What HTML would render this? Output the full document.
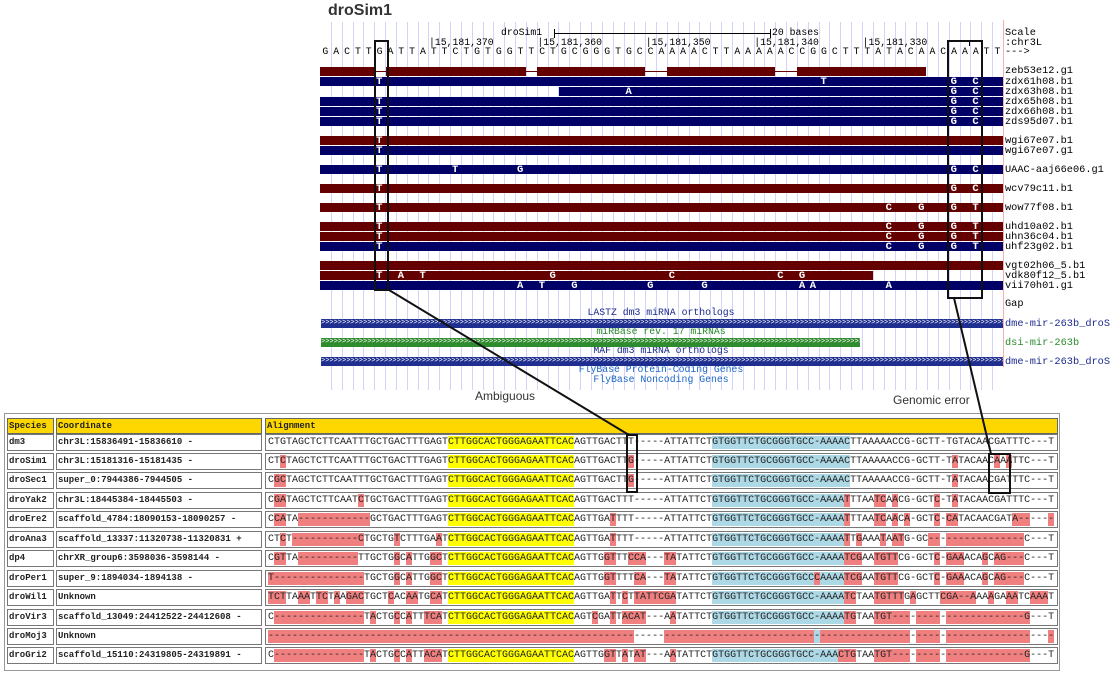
<!DOCTYPE html>
<html><head><meta charset="utf-8">
<style>
html,body{margin:0;padding:0;background:#fff;}
#c{position:relative;width:1120px;height:674px;overflow:hidden;background:#fff;}
.a{position:absolute;white-space:pre;}
.m{font-family:"Liberation Mono",monospace;font-size:9.8px;}
.tb{font-family:"Liberation Mono",monospace;font-size:9px;font-weight:bold;color:#222;}
.al{font-family:"Liberation Mono",monospace;font-size:10px;color:#222;}
.sn{font-family:"Liberation Sans",sans-serif;}
</style></head><body><div id="c"></div>
<script>
var h=[];
function d(x,y,w,ht,st){h.push('<div class="a" style="left:'+x+'px;top:'+y+'px;width:'+w+'px;height:'+ht+'px;'+(st||'')+'"></div>');}
function t(x,y,s,cls,st){h.push('<div class="a '+cls+'" style="left:'+x+'px;top:'+y+'px;'+(st||'')+'">'+s+'</div>');}
function tc(cx,cy,s,cls,st){h.push('<div class="a '+cls+'" style="left:'+(cx-300)+'px;width:600px;text-align:center;top:'+(cy-6)+'px;line-height:12px;'+(st||'')+'">'+s+'</div>');}
var P=10.84,X0=320;
function bx(i){return X0+(i+0.5)*P;}
for(var i=1;i<63;i++){d(Math.round(X0+i*P),22,1,368,'background:#d4d4fa;');}
d(1003,20,1,347,'background:#f2b0b0;');
t(328,2,'droSim1','sn','font-weight:bold;font-size:16px;color:#333;');
t(501,27,'droSim1','m');
d(554,33,216,1,'background:#000;');d(554,29,1,9,'background:#000;');d(770,29,1,9,'background:#000;');
t(772,27,'20 bases','m');
var pl=['|15,181,370','|15,181,360','|15,181,350','|15,181,340','|15,181,330'];
for(var i=0;i<5;i++)t(429+i*108.4,37,pl[i],'m');
d(969,40,1,6,'background:#000;');
var B="GACTTGATTATTCTGTGGTTCTGCGGGTGCCAAAACTTAAAAACCGGCTTTATACAACAAATT";
for(var i=0;i<B.length;i++)t(bx(i)-3,46,B[i],'m');
function rl(y,s,col){t(1005,y-6,s,'m','font-size:10.3px;line-height:12px;'+(col?'color:'+col+';':''));}
rl(33,'Scale');rl(43,':chr3L');rl(52,'---&gt;');
var M='#640000',N='#000066';
var segs=[[320,374],[386,526],[537,645],[667,775],[797,926]];
d(320,71,606,1,'background:'+M+';');
segs.forEach(function(s){d(s[0],67,s[1]-s[0],9,'background:'+M+';');});
rl(71,'zeb53e12.g1');
var tr=[
[77,320,1003,N,{5:'T',46:'T',58:'G',60:'C'},'zdx61h08.b1'],
[87,559,1003,N,{28:'A',58:'G',60:'C'},'zdx63h08.b1'],
[97,320,1003,N,{5:'T',58:'G',60:'C'},'zdx65h08.b1'],
[107,320,1003,N,{5:'T',58:'G',60:'C'},'zdx66h08.b1'],
[117,320,1003,N,{5:'T',58:'G',60:'C'},'zds95d07.b1'],
[136,320,1003,M,{5:'T'},'wgi67e07.b1'],
[146,320,1003,N,{5:'T'},'wgi67e07.g1'],
[165,320,1003,N,{5:'T',12:'T',18:'G',58:'G',60:'C'},'UAAC-aaj66e06.g1'],
[184,320,1003,M,{5:'T',58:'G',60:'C'},'wcv79c11.b1'],
[203,320,1003,M,{5:'T',52:'C',55:'G',58:'G',60:'T'},'wow77f08.b1'],
[222,320,1003,M,{5:'T',52:'C',55:'G',58:'G',60:'T'},'uhd10a02.b1'],
[232,320,1003,M,{5:'T',52:'C',55:'G',58:'G',60:'T'},'uhn36c04.b1'],
[242,320,1003,N,{5:'T',52:'C',55:'G',58:'G',60:'T'},'uhf23g02.b1'],
[261,320,1003,M,{},'vgt02h06_5.b1'],
[271,320,873,M,{5:'T',7:'A',9:'T',21:'G',32:'C',42:'C',44:'G'},'vdk80f12_5.b1'],
[281,320,1003,N,{18:'A',20:'T',23:'G',30:'G',35:'G',44:'A',45:'A',52:'A'},'vii70h01.g1']];
tr.forEach(function(r){d(r[1],r[0],r[2]-r[1],9,'background:'+r[3]+';');
 for(var k in r[4])t(bx(+k)-3.5,r[0]-1.5,r[4][k],'m','color:#fff;font-weight:bold;font-size:10.5px;line-height:12px;');
 rl(r[0]+4.5,r[5]);});
var ti=[[61,'droSim1 c1674 Assembly Reads'],[130,'droSim1 md106 Assembly Reads'],[159,'droSim1 md199 Assembly Reads'],[178,'droSim1 nc48 Assembly Reads'],[197,'droSim1 sim4 Assembly Reads'],[216,'droSim1 sim6 Assembly Reads'],[255,'droSim1 w501 Assembly Reads'],[295,'Gap Locations']];
ti.forEach(function(a){tc(661,a[1],a[0],'m');});
rl(304,'Gap');
tc(661,313,'LASTZ dm3 miRNA orthologs','m','color:#1c2a8c;');
tc(661,332,'miRBase rev. 17 miRNAs','m','color:#2a8a2a;');
tc(661,351,'MAF dm3 miRNA orthologs','m','color:#1c2a8c;');
tc(661,370,'FlyBase Protein-Coding Genes','m','color:#1a66c8;');
tc(661,380,'FlyBase Noncoding Genes','m','color:#1a66c8;');
var chev=new Array(200).join('&gt;');
function cb(y,x1,col){h.push('<div class="a" style="left:321px;top:'+y+'px;width:'+(x1-321)+'px;height:9px;background:'+col+';overflow:hidden;color:#fff;font-family:\'Liberation Mono\',monospace;font-size:7px;line-height:9px;letter-spacing:0px;">'+chev+'</div>');}
cb(319,1003,'#1f2f8f');cb(338,860,'#2e8b2e');cb(357,1003,'#1f2f8f');
rl(323.5,'dme-mir-263b_droS','#1c2a8c');rl(342.5,'dsi-mir-263b','#2a8a2a');rl(361.5,'dme-mir-263b_droS','#1c2a8c');
t(475,389,'Ambiguous','sn','font-size:12px;color:#333;');
t(893,393,'Genomic error','sn','font-size:12px;color:#333;');
d(4,413,1056,258,'border:1px solid #999;box-sizing:border-box;background:#fff;');
var cols=[[7,47],[56,206],[265,793]];
var hdr=['Species','Coordinate','Alignment'];
for(var c=0;c<3;c++){d(cols[c][0],418,cols[c][1],16,'background:#ffd700;border:1px solid #666;box-sizing:border-box;');t(cols[c][0]+2,420,hdr[c],'tb','line-height:12px;');}
var Y="CTTGGCACTGGGAGAATTCAC";
var rows=[
['dm3','chr3L:15836491-15836610 -',"CTGTAGCTCTTCAATTTGCTGACTTTGAGT"+Y+"AGTTGACTTT-----ATTATTCT"+"GTGGTTCTGCGGGTGCC-AAAAC"+"TTAAAAACCG-GCTT-TGTACAACGATTTC---T"],
['droSim1','chr3L:15181316-15181435 -',"CTCTAGCTCTTCAATTTGCTGACTTTGAGT"+Y+"AGTTGACTTG-----ATTATTCT"+"GTGGTTCTGCGGGTGCC-AAAAC"+"TTAAAAACCG-GCTT-TATACAACAAATTC---T"],
['droSec1','super_0:7944386-7944505 -',"CGCTAGCTCTTCAATTTGCTGACTTTGAGT"+Y+"AGTTGACTTG-----ATTATTCT"+"GTGGTTCTGCGGGTGCC-AAAAC"+"TTAAAAACCG-GCTT-TATACAACGATTTC---T"],
['droYak2','chr3L:18445384-18445503 -',"CGATAGCTCTTCAATCTGCTGACTTTGAGT"+Y+"AGTTGACTTT-----ATTATTCT"+"GTGGTTCTGCGGGTGCC-AAAAT"+"TTAATCAACG-GCTC-TATACAACGATTTC---T"],
['droEre2','scaffold_4784:18090153-18090257 -',"CCATA------------GCTGACTTTGAGT"+Y+"AGTTGATTTT-----ATTATTCT"+"GTGGTTCTGCGGGTGCC-AAAAT"+"TTAATCAACA-GCTC-CATACAACGATA------"],
['droAna3','scaffold_13337:11320738-11320831 +',"CTCT-----------CTGCTGTCTTTGAAT"+Y+"AGTTGATTTT-----ATTATTCT"+"GTGGTTCTGCGGGTGCC-AAAAT"+"TGAAATAATG-GC----------------C---T"],
['dp4','chrXR_group6:3598036-3598144 -',"CGTTA----------TTGCTGGCATTGGCT"+Y+"AGTTGGTTTCCA---TATATTCT"+"GTGGTTCTGCGGGTGCC-AAAAT"+"CGAATGTTCG-GCTC-GAAACAGCAG---C---T"],
['droPer1','super_9:1894034-1894138 -',"T---------------TGCTGGCATTGGCT"+Y+"AGTTGGTTTTCA---TATATTCT"+"GTGGTTCTGCGGGTGCCCAAAAT"+"CGAATGTTCG-GCTC-GAAACAGCAG---C---T"],
['droWil1','Unknown',"TCTTAAATTCTAAGACTGCTCACAATGCAT"+Y+"AGTTGATTCTTATTCGATATTCT"+"GTGGTTCTGCGGGTGCC-AAAAT"+"CTAATGTTTGAGCTTCGA--AAAAGAAATCAAAT"],
['droVir3','scaffold_13049:24412522-24412608 -',"C---------------TACTGCCATTTCAT"+Y+"AGTCGATTACAT---AATATTCT"+"GTGGTTCTGCGGGTGCC-AAAAT"+"GTAATGT----------------------G---T"],
['droMoj3','Unknown',new Array(132).join('-')],
['droGri2','scaffold_15110:24319805-24319891 -',"C---------------TACTGCCATTACAT"+Y+"AGTTGGTTATAT---AATATTCT"+"GTGGTTCTGCGGGTGCC-AAACT"+"GTAATGT----------------------G---T"]];
var ref=rows[0][2];
rows.forEach(function(r,i){
 var cy=442+i*19.45, top=Math.round(cy-8.5);
 for(var c=0;c<3;c++)d(cols[c][0],top,cols[c][1],17,'border:1px solid #777;box-sizing:border-box;background:#fff;');
 t(9,top+2,r[0],'tb','line-height:13px;');
 t(58,top+2,r[1],'tb','line-height:13px;');
 var s=r[2];
 for(var k=0;k<s.length;k++){
  var bg=null;
  if(s[k]!=ref[k])bg='#f08080';
  else if(k>=30&&k<=50)bg='#ffff00';
  else if(k>=74&&k<=96)bg='#add8e6';
  if(bg)d(268+k*6,top+2,6,13,'background:'+bg+';');
 }
 t(268,top+2,s,'al','line-height:13px;');
});
d(374,40,15,251,'border:2px solid #111;box-sizing:border-box;');
d(947,40,36,259,'border:2px solid #111;box-sizing:border-box;');
d(626,434,12,59,'border:2px solid #111;box-sizing:border-box;');
d(988,453,23,41,'border:2px solid #111;box-sizing:border-box;');
h.push('<svg class="a" style="left:0;top:0" width="1120" height="674"><line x1="389" y1="290" x2="629" y2="435" stroke="#111" stroke-width="2"/><line x1="954" y1="298" x2="991" y2="454" stroke="#111" stroke-width="2"/></svg>');
d(560,0,200,19,'background:#fff;z-index:50;');
document.getElementById('c').innerHTML=h.join('');
</script></body></html>
